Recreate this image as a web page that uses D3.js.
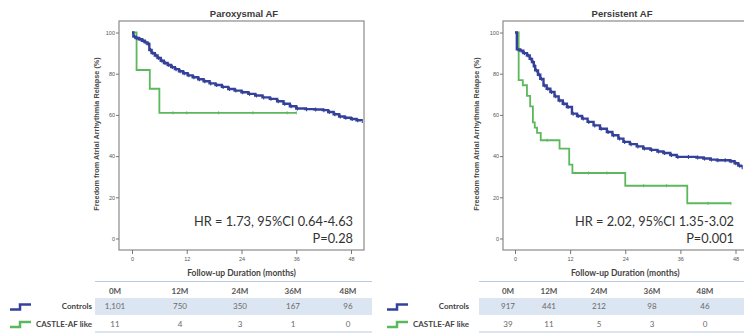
<!DOCTYPE html>
<html><head><meta charset="utf-8">
<script src="https://cdn.jsdelivr.net/npm/d3@7"></script>
<style>html,body{margin:0;padding:0;background:#fff;}svg{display:block;}</style>
</head><body>
<script>
// ---------- DATA ----------
const titles = ["Paroxysmal AF", "Persistent AF"];
const xTicks = [0, 12, 24, 36, 48];
const yTicks = [0, 20, 40, 60, 80, 100];
const riskHeaders = ["0M", "12M", "24M", "36M", "48M"];
const groupNames = ["Controls", "CASTLE-AF like"];
const hrTexts = ["HR = 1.73, 95%CI 0.64-4.63", "HR = 2.02, 95%CI 1.35-3.02"];
const pTexts = ["P=0.28", "P=0.001"];

// Paroxysmal AF
const paroxControlsT = [0,0.3,0.8,1.5,2.2,2.8,3.4,3.8,4.3,5.0,5.6,6.3,7.0,7.8,8.6,9.4,10.3,11.2,12.2,13.3,14.5,15.7,17.0,18.3,19.7,21.1,22.5,24.0,25.5,27.0,28.6,30.2,31.8,33.2,34.6,36.0,38.0,40.0,41.8,43.0,44.2,45.4,46.6,48.0,49.2,50.2];
const paroxControlsS = [100,98.0,97.3,96.7,96.0,95.2,94.4,91.5,90.0,88.8,87.6,86.3,85.2,84.2,83.2,82.2,81.2,80.2,79.2,78.3,77.3,76.3,75.3,74.5,73.6,72.6,71.8,71.0,70.2,69.4,68.5,67.8,66.6,65.4,64.2,63.1,62.8,62.6,62.3,61.4,60.3,59.2,58.6,58.0,57.4,57.0];
const paroxCastleT = [0,1.0,3.9,6.0,36.0];
const paroxCastleS = [100,81.8,72.7,61.0,61.0];
const paroxCastleCensor = [9,12,19,26.5,34,36];

// Persistent AF
const persControlsT = [0,0.4,1.1,1.8,2.6,3.2,3.7,4.1,4.4,5.0,5.5,6.2,6.9,7.7,8.6,9.5,10.4,11.3,12.4,13.5,14.6,15.8,17.1,18.5,20.0,21.2,22.5,23.6,25.0,26.5,27.9,29.5,31.0,32.3,33.8,35.2,37.5,39.5,41.0,42.5,43.9,45.5,46.8,47.8,48.6,49.2];
const persControlsS = [100,91.8,91.2,90.0,88.8,87.2,85.6,83.6,81.6,79.5,77.5,74.3,72.7,71.1,69.0,67.0,65.4,63.8,60.6,59.5,58.2,56.6,54.9,53.3,51.7,50.1,48.5,46.9,45.8,44.7,43.7,43.0,42.2,41.5,40.5,39.6,39.6,39.3,38.8,38.3,38.0,38.0,37.5,36.5,35.4,34.6];
const persCastleT = [0,0.8,1.7,2.6,3.3,3.9,4.3,4.8,5.6,9.7,11.8,12.5,24.0,37.5,47.0];
const persCastleS = [100,76.9,74.4,69.2,64.1,56.4,53.8,51.3,47.7,43.6,35.9,31.8,25.6,17.1,17.1];
const persCastleCensor = [7,16,20,28,33,42,47];

// Numbers at risk
const paroxRiskControls = ["1,101","750","350","167","96"];
const paroxRiskCastle = ["11","4","3","1","0"];
const persRiskControls = ["917","441","212","98","46"];
const persRiskCastle = ["39","11","5","3","0"];

// ---------- LAYOUT ----------
const W = 744, H = 334;
const blue = "#34419a", green = "#5cb85c";
const panels = [
  {frameL:119, frameR:364, x0:132, x1:351, titleX:244, yTitleX:96, hrRight:353,
   tblL:95, tblR:372, cols:[115,180,240,293,348], labelRight:92, iconX:10,
   ctrl:[paroxControlsT, paroxControlsS], cas:[paroxCastleT, paroxCastleS], casCensor:paroxCastleCensor,
   risk:[paroxRiskControls, paroxRiskCastle]},
  {frameL:503, frameR:747, x0:515, x1:735.5, titleX:622, yTitleX:476, hrRight:734,
   tblL:479, tblR:744, cols:[508,549,599,652,705], labelRight:469, iconX:387,
   ctrl:[persControlsT, persControlsS], cas:[persCastleT, persCastleS], casCensor:persCastleCensor,
   risk:[persRiskControls, persRiskCastle]}
];
const frameT = 21, frameB = 250;

const svg = d3.select("body").append("svg").attr("width", W).attr("height", H)
  .style("font-family", "Lato, 'Open Sans', sans-serif");

const y = d3.scaleLinear().domain([0,100]).range([238.5, 32.5]);

panels.forEach((p, i) => {
  const x = d3.scaleLinear().domain([0,48]).range([p.x0, p.x1]);
  const g = svg.append("g");

  // frame
  g.append("rect").attr("x", p.frameL).attr("y", frameT)
    .attr("width", p.frameR - p.frameL).attr("height", frameB - frameT)
    .attr("fill", "#fff").attr("stroke", "#8a8a8a").attr("stroke-width", 1.2);

  // title
  g.append("text").attr("x", p.titleX).attr("y", 17).attr("text-anchor", "middle")
    .style("font-family", "'Liberation Sans', Arial, sans-serif")
    .style("font-size", "9.5px").style("font-weight", "bold").attr("fill", "#3a3a3a")
    .text(titles[i]);

  // y axis
  const ya = g.append("g").attr("transform", `translate(${p.frameL},0)`)
    .call(d3.axisLeft(y).tickValues(yTicks).tickSize(3).tickPadding(1));
  ya.select(".domain").remove();
  ya.selectAll("line").attr("stroke", "#777");
  ya.selectAll("text").style("font-family", "'Liberation Sans', Arial, sans-serif")
    .style("font-size", "5.5px").attr("fill", "#555");

  // x axis
  const xa = g.append("g").attr("transform", `translate(0,${frameB})`)
    .call(d3.axisBottom(x).tickValues(xTicks).tickSize(4).tickPadding(3));
  xa.select(".domain").remove();
  xa.selectAll("line").attr("stroke", "#777");
  xa.selectAll("text").style("font-family", "'Liberation Sans', Arial, sans-serif")
    .style("font-size", "5.5px").attr("fill", "#555");

  // y title
  g.append("text").attr("transform", `translate(${p.yTitleX},134) rotate(-90)`)
    .attr("text-anchor", "middle").attr("dy", "0.35em")
    .style("font-family", "'Liberation Sans', Arial, sans-serif")
    .style("font-size", "7.3px").style("font-weight", "bold").attr("fill", "#4a4a4a")
    .text("Freedom from Atrial Arrhythmia Relapse (%)");

  // x title
  g.append("text").attr("x", (p.x0 + p.x1)/2).attr("y", 276).attr("text-anchor", "middle")
    .style("font-size", "8.5px").style("font-weight", "bold").attr("fill", "#444")
    .text("Follow-up Duration (months)");

  // curves
  const line = d3.line().curve(d3.curveStepAfter).x(d => x(d[0])).y(d => y(d[1]));
  const ctrlPts = p.ctrl[0].map((t, k) => [t, p.ctrl[1][k]]);
  const casPts = p.cas[0].map((t, k) => [t, p.cas[1][k]]);

  g.append("path").datum(casPts).attr("d", line).attr("fill", "none")
    .attr("stroke", green).attr("stroke-width", 1.8);
  // green censor ticks
  const casStep = t => { let v = p.cas[1][0]; p.cas[0].forEach((tt, k) => { if (tt <= t) v = p.cas[1][k]; }); return v; };
  g.selectAll(null).data(p.casCensor).join("line")
    .attr("x1", d => x(d)).attr("x2", d => x(d))
    .attr("y1", d => y(casStep(d)) - 1.5).attr("y2", d => y(casStep(d)) + 1.5)
    .attr("stroke", green).attr("stroke-width", 1);

  g.append("path").datum(ctrlPts).attr("d", line).attr("fill", "none")
    .attr("stroke", blue).attr("stroke-width", 2.4);
  // blue censor ticks
  g.selectAll(null).data(ctrlPts.slice(1)).join("line")
    .attr("x1", d => x(d[0]) + 1.2).attr("x2", d => x(d[0]) + 1.2)
    .attr("y1", d => y(d[1]) - 2).attr("y2", d => y(d[1]) + 2)
    .attr("stroke", blue).attr("stroke-width", 1.1);

  // HR / P text
  g.append("text").attr("x", p.hrRight).attr("y", 226).attr("text-anchor", "end")
    .style("font-size", "12.8px").attr("fill", "#333").text(hrTexts[i]);
  g.append("text").attr("x", p.hrRight).attr("y", 243).attr("text-anchor", "end")
    .style("font-size", "12.8px").attr("fill", "#333").text(pTexts[i]);

  // risk table
  const t = svg.append("g");
  t.append("line").attr("x1", p.tblL).attr("x2", p.tblR).attr("y1", 281.5).attr("y2", 281.5)
    .attr("stroke", "#b9c9e3").attr("stroke-width", 1);
  t.append("rect").attr("x", p.tblL).attr("y", 298).attr("width", p.tblR - p.tblL).attr("height", 17)
    .attr("fill", "#dce5f2");
  t.append("line").attr("x1", p.tblL).attr("x2", p.tblR).attr("y1", 332).attr("y2", 332)
    .attr("stroke", "#b9c9e3").attr("stroke-width", 1.2);
  t.selectAll(null).data(riskHeaders).join("text")
    .attr("x", (d, k) => p.cols[k]).attr("y", 291).attr("dy", "0.35em").attr("text-anchor", "middle")
    .style("font-size", "8px").style("font-weight", "bold").attr("fill", "#555").text(d => d);
  const rowY = [306.5, 324];
  p.risk.forEach((row, r) => {
    t.selectAll(null).data(row).join("text")
      .attr("x", (d, k) => p.cols[k]).attr("y", rowY[r]).attr("dy", "0.35em").attr("text-anchor", "middle")
      .style("font-size", "8px").attr("fill", "#6a6a6a").text(d => d);
    t.append("text").attr("x", p.labelRight).attr("y", rowY[r]).attr("dy", "0.35em").attr("text-anchor", "end")
      .style("font-size", "8px").style("font-weight", "bold").attr("fill", "#444").text(groupNames[r]);
    const cy = rowY[r];
    const ix = p.iconX;
    t.append("path")
      .attr("d", `M${ix},${cy+3}H${ix+10}V${cy-2}H${ix+21}`)
      .attr("fill", "none").attr("stroke", r === 0 ? blue : green).attr("stroke-width", 2.5);
  });
});
</script>
</body></html>
